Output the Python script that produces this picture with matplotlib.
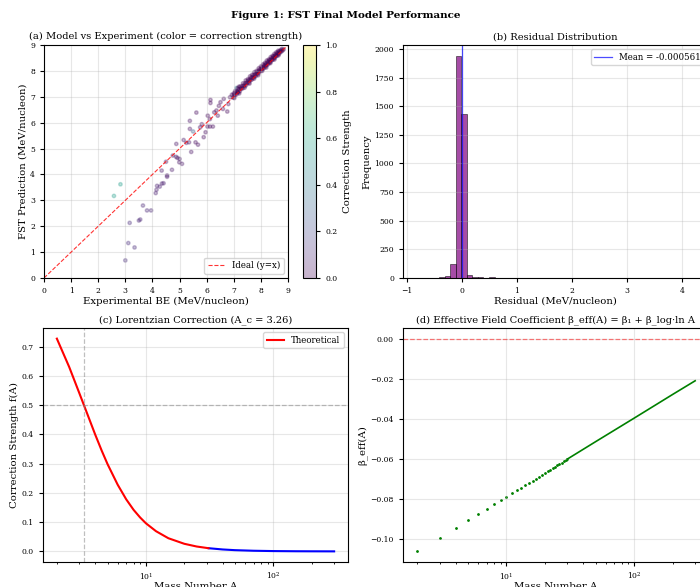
import matplotlib
matplotlib.use('Agg')
import matplotlib.pyplot as plt
import numpy as np

plt.rcParams['font.family'] = ['DejaVu Serif', 'DejaVu Sans']
plt.rcParams['xtick.labelsize'] = 5.5
plt.rcParams['ytick.labelsize'] = 5.5
plt.rcParams['axes.labelsize'] = 7.3
plt.rcParams['axes.titlesize'] = 7.1
plt.rcParams['legend.fontsize'] = 6.2
plt.rcParams['axes.linewidth'] = 0.8
plt.rcParams['xtick.major.size'] = 3
plt.rcParams['ytick.major.size'] = 3
plt.rcParams['xtick.minor.size'] = 1.7

# ---- (a) model vs experiment: scattered light nuclei ----
exp_sparse = [3.00, 3.11, 3.34, 3.16, 3.50, 3.55, 3.65, 3.80, 3.95, 2.58, 2.82, 4.12, 4.15, 4.17,
              4.27, 4.35, 4.41, 4.34, 4.54, 4.54, 4.50, 4.72, 4.75, 4.88, 4.87, 4.92, 5.00, 4.99,
              5.09, 5.15, 5.25, 5.35, 5.38, 5.38, 5.50, 5.43, 5.62, 5.59, 5.68, 5.76, 5.82, 5.89,
              5.96, 6.03, 6.12, 6.23, 6.04, 6.12, 6.14, 6.14, 6.28, 6.36, 6.41, 6.45, 6.51, 6.60,
              6.63, 6.76, 6.80, 6.86, 6.93, 7.10, 7.00, 7.15, 7.19]
fst_sparse = [0.68, 1.35, 1.18, 2.13, 2.22, 2.26, 2.80, 2.61, 2.61, 3.17, 3.62, 3.28, 3.41, 3.56,
              3.53, 3.65, 3.66, 4.15, 3.91, 3.96, 4.49, 4.18, 4.73, 5.18, 4.68, 4.64, 4.60, 4.47,
              4.41, 5.33, 5.22, 5.24, 6.07, 5.76, 5.66, 4.87, 6.39, 5.24, 5.15, 5.82, 5.94, 5.44,
              5.63, 5.85, 5.85, 5.85, 6.27, 6.14, 6.88, 6.76, 6.40, 6.47, 6.27, 6.65, 6.79, 6.53,
              6.92, 6.43, 6.72, 6.98, 7.08, 7.34, 7.13, 7.17, 7.39]
corr_sparse = [0.12, 0.12, 0.12, 0.12, 0.10, 0.10, 0.10, 0.10, 0.10, 0.55, 0.55, 0.08, 0.08, 0.08,
               0.08, 0.08, 0.08, 0.06, 0.06, 0.06, 0.06, 0.06, 0.06, 0.05, 0.05, 0.05, 0.05, 0.05,
               0.05, 0.04, 0.04, 0.04, 0.04, 0.04, 0.30, 0.04, 0.03, 0.03, 0.03, 0.03, 0.03, 0.03,
               0.03, 0.03, 0.03, 0.03, 0.02, 0.02, 0.02, 0.02, 0.02, 0.02, 0.02, 0.02, 0.02, 0.02,
               0.02, 0.02, 0.02, 0.02, 0.02, 0.40, 0.01, 0.01, 0.01]

# dense band of heavy nuclei along the diagonal
exp_band = [6.98, 7.04, 7.10, 7.16, 7.22, 7.28, 7.33, 7.39, 7.45, 7.50, 7.56, 7.61, 7.66, 7.71,
            7.76, 7.81, 7.86, 7.91, 7.96, 8.00, 8.05, 8.09, 8.14, 8.18, 8.22, 8.27, 8.31, 8.35,
            8.40, 8.44, 8.48, 8.52, 8.56, 8.60, 8.64, 8.68, 8.72, 8.76, 8.80, 8.84,
            7.00, 7.07, 7.13, 7.19, 7.25, 7.31, 7.36, 7.42, 7.47, 7.53, 7.58, 7.63, 7.68, 7.73,
            7.78, 7.83, 7.88, 7.93, 7.98, 8.03, 8.07, 8.12, 8.16, 8.20, 8.25, 8.29, 8.33, 8.37,
            8.42, 8.46, 8.50, 8.54, 8.58, 8.62, 8.66, 8.70, 8.74, 8.78,
            7.05, 7.15, 7.24, 7.34, 7.44, 7.52, 7.60, 7.68, 7.76, 7.84, 7.92, 8.00, 8.08, 8.15,
            8.22, 8.29, 8.36, 8.43, 8.50, 8.57, 8.64,
            7.02, 7.20, 7.40, 7.58, 7.75, 7.90, 8.05, 8.20, 8.35, 8.50, 8.65]
fst_band = [6.97, 7.05, 7.09, 7.18, 7.21, 7.30, 7.33, 7.41, 7.44, 7.52, 7.55, 7.63, 7.66, 7.72,
            7.77, 7.80, 7.87, 7.90, 7.97, 8.01, 8.04, 8.10, 8.13, 8.19, 8.22, 8.26, 8.32, 8.34,
            8.41, 8.43, 8.49, 8.51, 8.57, 8.59, 8.65, 8.67, 8.73, 8.75, 8.79, 8.83,
            7.08, 7.17, 7.21, 7.29, 7.33, 7.41, 7.44, 7.52, 7.55, 7.63, 7.66, 7.73, 7.76, 7.83,
            7.86, 7.93, 7.96, 8.02, 8.07, 8.11, 8.16, 8.20, 8.25, 8.28, 8.34, 8.37, 8.42, 8.45,
            8.50, 8.55, 8.58, 8.62, 8.66, 8.70, 8.74, 8.77, 8.81, 8.85,
            7.22, 7.33, 7.40, 7.52, 7.63, 7.68, 7.79, 7.85, 7.95, 8.00, 8.10, 8.17, 8.25, 8.31,
            8.40, 8.44, 8.53, 8.58, 8.66, 8.72, 8.78,
            6.95, 7.13, 7.35, 7.51, 7.70, 7.83, 8.00, 8.13, 8.30, 8.44, 8.60]

# ---- (b) residual histogram ----
bin_start = -0.815
bin_width = 0.1007
residual_counts = [2, 3, 2, 4, 8, 17, 118, 1938, 1431, 26, 10, 9, 2, 5, 4, 3, 2, 1, 2, 1,
                   2, 1, 0, 0, 0, 2, 1, 2, 1, 1, 2, 1, 0, 0, 0, 0, 0, 1, 0, 0,
                   0, 0, 0, 0, 0, 1, 2, 0, 2, 1]
residual_mean = -0.000561

# ---- (c) lorentzian correction ----
A_c = 3.26
A_theory = [2, 2.5, 3, 3.26, 3.5, 4, 4.5, 5, 6, 7, 8, 9, 10, 12, 15, 20, 25, 31]
f_theory = [0.727, 0.630, 0.541, 0.500, 0.465, 0.399, 0.344, 0.298, 0.228, 0.178, 0.142,
            0.116, 0.096, 0.069, 0.045, 0.026, 0.0167, 0.0109]
A_data = [31, 40, 50, 70, 100, 150, 200, 300]
f_data = [0.0109, 0.0066, 0.0042, 0.0022, 0.0011, 0.0005, 0.0003, 0.0001]

# ---- (d) effective field coefficient ----
A_light = list(range(2, 31))
beta_light = [-0.1060, -0.0991, -0.0942, -0.0905, -0.0873, -0.0847, -0.0825, -0.0805, -0.0787,
              -0.0771, -0.0756, -0.0742, -0.0730, -0.0718, -0.0707, -0.0697, -0.0687, -0.0678,
              -0.0669, -0.0661, -0.0653, -0.0645, -0.0638, -0.0631, -0.0625, -0.0618, -0.0612,
              -0.0606, -0.0600]
A_heavy = [30, 50, 100, 150, 200, 300]
beta_heavy = [-0.0600, -0.0513, -0.0396, -0.0327, -0.0278, -0.0210]

W, H = 700, 587
fig = plt.figure(figsize=(7, 5.87), dpi=100)


def box(x0, y0, x1, y1):
    return [x0 / W, 1 - y1 / H, (x1 - x0) / W, (y1 - y0) / H]


ax_a = fig.add_axes(box(44, 45, 288, 278))
cax = fig.add_axes(box(303, 45, 316, 278))
ax_b = fig.add_axes(box(403, 45, 708, 278))
ax_c = fig.add_axes(box(43, 328, 348, 562))
ax_d = fig.add_axes(box(403, 328, 709, 562))

# (a)
xs = exp_sparse + exp_band
ys = fst_sparse + fst_band
cs = corr_sparse + [0.0] * len(exp_band)
sc = ax_a.scatter(xs, ys, c=cs, cmap='viridis', vmin=0, vmax=1, s=6, alpha=0.3)
ax_a.plot([0, 9], [0, 9], 'r--', lw=0.8, alpha=0.8, label='Ideal (y=x)')
ax_a.set_xlim(0, 9)
ax_a.set_ylim(0, 9)
ax_a.set_xticks(range(10))
ax_a.set_yticks(range(10))
ax_a.set_xlabel('Experimental BE (MeV/nucleon)', labelpad=1)
ax_a.set_ylabel('FST Prediction (MeV/nucleon)', labelpad=2)
ax_a.set_title('(a) Model vs Experiment (color = correction strength)', pad=4)
ax_a.legend(loc='lower right')
ax_a.grid(True, alpha=0.3)
cb = fig.colorbar(sc, cax=cax, alpha=0.3)
cb.set_label('Correction Strength')
cb.outline.set_linewidth(0.8)

# (b)
edges = [bin_start + i * bin_width for i in range(len(residual_counts) + 1)]
centers = [bin_start + (i + 0.5) * bin_width for i in range(len(residual_counts))]
ax_b.hist(centers, bins=edges, weights=residual_counts, color='purple', alpha=0.7,
          edgecolor='black', linewidth=0.5)
ax_b.axvline(residual_mean, color='blue', lw=0.9, alpha=0.7, label=f'Mean = {residual_mean:.6f}')
ax_b.set_xlabel('Residual (MeV/nucleon)', labelpad=1)
ax_b.set_ylabel('Frequency', labelpad=2)
ax_b.set_title('(b) Residual Distribution', pad=4)
ax_b.legend(loc='upper right')
ax_b.grid(True, alpha=0.3)

# (c)
ax_c.plot(A_data, f_data, color='blue', lw=1.5)
ax_c.plot(A_theory, f_theory, color='red', lw=1.5, label='Theoretical')
ax_c.axvline(A_c, color='gray', ls='--', lw=0.9, alpha=0.5)
ax_c.axhline(0.5, color='gray', ls='--', lw=0.9, alpha=0.5)
ax_c.set_xscale('log')
ax_c.set_xlabel('Mass Number A', labelpad=0)
ax_c.set_ylabel('Correction Strength f(A)', labelpad=2)
ax_c.set_title(f'(c) Lorentzian Correction (A_c = {A_c:.2f})', pad=4)
ax_c.legend(loc='upper right')
ax_c.grid(True, alpha=0.3)

# (d)
ax_d.plot(A_heavy, beta_heavy, color='green', lw=1.2)
ax_d.scatter(A_light, beta_light, color='green', s=1)
ax_d.axhline(0, color='red', ls='--', lw=0.9, alpha=0.5)
ax_d.set_xscale('log')
ax_d.set_xlim(1.55, 385)
ax_d.set_xlabel('Mass Number A', labelpad=0)
ax_d.set_ylabel('β_eff(A)', labelpad=2)
ax_d.set_title('(d) Effective Field Coefficient β_eff(A) = β₁ + β_log·ln A', pad=4)
ax_d.grid(True, alpha=0.3)

fig.suptitle('Figure 1: FST Final Model Performance', x=346 / W, y=1 - 11 / H,
             fontsize=7.5, fontweight='bold', va='top')

fig.savefig('out.png', dpi=100)
